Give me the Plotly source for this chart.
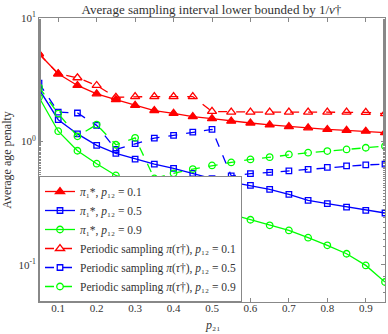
import plotly.graph_objects as go

p21 = [0.05, 0.10, 0.15, 0.20, 0.25, 0.30, 0.35, 0.40, 0.45, 0.50,
       0.55, 0.60, 0.65, 0.70, 0.75, 0.80, 0.85, 0.90, 0.95]

# optimal policy pi_1^*
opt_01 = [5.13, 3.53, 2.84, 2.43, 2.18, 1.96, 1.78, 1.69, 1.59, 1.53,
          1.46, 1.41, 1.36, 1.32, 1.29, 1.25, 1.23, 1.21, 1.18]
opt_05 = [2.65, 1.50, 1.15, 0.93, 0.80, 0.72, 0.655, 0.604, 0.551, 0.499,
          0.468, 0.440, 0.409, 0.372, 0.333, 0.313, 0.294, 0.276, 0.263]
opt_09 = [2.28, 1.21, 0.84, 0.66, 0.53, 0.46, 0.392, 0.333, 0.298, 0.278,
          0.256, 0.232, 0.209, 0.190, 0.166, 0.144, 0.123, 0.099, 0.0726]

# periodic sampling pi(tau^dagger)
per_01 = [5.13, 3.53, 3.28, 2.84, 2.28, 2.31, 2.31, 2.31, 2.31, 1.75,
          1.73, 1.73, 1.73, 1.73, 1.73, 1.73, 1.73, 1.72, 1.68]
per_05 = [2.97, 1.73, 1.70, 1.35, 0.86, 0.958, 1.063, 1.12, 1.19, 1.25,
          0.526, 0.548, 0.561, 0.577, 0.593, 0.616, 0.634, 0.645, 0.655]
per_09 = [2.75, 1.68, 1.10, 1.37, 0.94, 1.07, 0.501, 0.551, 0.597, 0.639,
          0.676, 0.715, 0.746, 0.785, 0.810, 0.835, 0.861, 0.889, 0.916]

x_ticks = [0.1, 0.2, 0.3, 0.4, 0.5, 0.6, 0.7, 0.8, 0.9]
y_ticks = [0.1, 1, 10]
y_labels = ["10<sup>-1</sup>", "10<sup>0</sup>", "10<sup>1</sup>"]

RED, BLUE, GREEN = "#ff0000", "#0000ff", "#00ff00"
FONT = "Liberation Serif"
TXT = "#333333"

series = [
    (opt_01, RED, "triangle-up", 8, "solid", "<i>π</i>₁*, <i>p</i>₁₂ = 0.1"),
    (opt_05, BLUE, "square-open", 5.5, "solid", "<i>π</i>₁*, <i>p</i>₁₂ = 0.5"),
    (opt_09, GREEN, "circle-open", 6.5, "solid", "<i>π</i>₁*, <i>p</i>₁₂ = 0.9"),
    (per_01, RED, "triangle-up-open", 8, "dash",
     "Periodic sampling <i>π</i>(<i>τ</i>†), <i>p</i>₁₂ = 0.1"),
    (per_05, BLUE, "square-open", 5.5, "dash",
     "Periodic sampling <i>π</i>(<i>τ</i>†), <i>p</i>₁₂ = 0.5"),
    (per_09, GREEN, "circle-open", 6.5, "dash",
     "Periodic sampling <i>π</i>(<i>τ</i>†), <i>p</i>₁₂ = 0.9"),
]

fig = go.Figure()
for ys, col, sym, size, dash, name in series:
    fig.add_trace(go.Scatter(
        x=p21, y=ys, mode="lines+markers", name=name,
        line=dict(color=col, width=1.3, dash=dash),
        marker=dict(symbol=sym, size=size, color=col,
                    line=dict(color=col, width=1.3)),
    ))

axis_common = dict(
    showline=True, linecolor="#888888", linewidth=1, mirror="ticks",
    ticks="inside", tickcolor="#888888", ticklen=4, showgrid=False,
    zeroline=False, tickfont=dict(family=FONT, size=11, color=TXT),
)

fig.update_layout(
    width=388, height=334,
    margin=dict(l=39, r=3, t=18, b=32),
    paper_bgcolor="white", plot_bgcolor="white",
    font=dict(family=FONT, size=11, color=TXT),
    title=dict(text="Average sampling interval lower bounded by 1/<i>ν</i>†",
               x=0.545, xanchor="center", y=0.972, yanchor="middle",
               font=dict(family=FONT, size=13, color=TXT)),
    xaxis=dict(range=[0.05, 0.95], tickvals=x_ticks, ticklabelstandoff=-4,
               **axis_common),
    yaxis=dict(type="log", range=[-1.301, 1], tickvals=y_ticks, ticktext=y_labels,
               minor=dict(ticks="inside", ticklen=2, tickcolor="#888888",
                          showgrid=False),
               title=dict(text="Average age penalty", standoff=4,
                          font=dict(family=FONT, size=12)),
               **axis_common),
    legend=dict(x=0.0, y=0.0, xanchor="left", yanchor="bottom",
                bgcolor="white", bordercolor="#888888", borderwidth=1,
                font=dict(family=FONT, size=11.5, color=TXT),
                tracegroupgap=0, itemwidth=30),
    annotations=[dict(text="<i>p</i>₂₁", xref="paper", yref="paper",
                      x=0.5, y=-0.082, xanchor="center", yanchor="middle",
                      showarrow=False, font=dict(family=FONT, size=12, color=TXT))],
    showlegend=True,
)

# page body has a default 8px margin; drop it so the figure fills the window
fig.write_html("out.html", config={"displayModeBar": False},
               post_script="document.body.style.margin='0';")
